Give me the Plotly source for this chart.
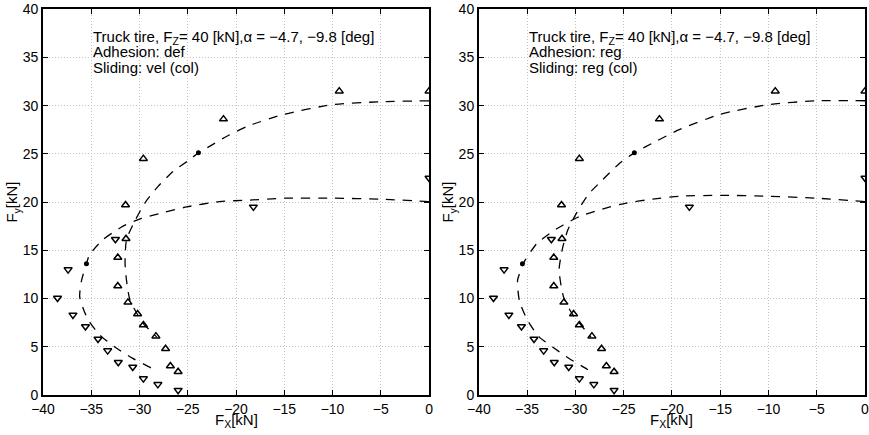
import plotly.graph_objects as go

# Measured force points, alpha = -4.7 deg (up triangles) and -9.8 deg (down triangles)
meas_up_fx = [-9.3, -21.3, -29.6, -31.45, -31.4, -32.25, -32.25, -31.2, -30.2, -29.6, -28.3, -27.3, -26.8, -26.0, 0.0]
meas_up_fy = [31.5, 28.6, 24.5, 19.7, 16.2, 14.25, 11.3, 9.6, 8.4, 7.25, 6.1, 4.8, 3.0, 2.4, 31.5]
meas_dn_fx = [0.0, -18.2, -32.5, -37.4, -38.5, -36.9, -35.6, -34.3, -33.3, -32.2, -30.7, -29.6, -28.1, -26.0]
meas_dn_fy = [22.5, 19.5, 16.15, 13.0, 10.05, 8.3, 7.1, 5.8, 4.6, 3.4, 2.9, 1.7, 1.1, 0.5]

# Peak points marked with dots
peak_fx = [-23.9, -35.5]
peak_fy = [25.1, 13.6]

# Model curves, left panel (adhesion: def, sliding: vel)
def_a1_fx = [0.0, -5.0, -10.0, -15.0, -18.7, -21.0, -22.7, -23.9, -24.8, -26.5, -28.1, -29.45, -30.5, -31.35, -31.5, -31.35, -31.0, -30.3, -29.6, -28.2]
def_a1_fy = [30.5, 30.4, 30.1, 29.1, 27.9, 26.8, 25.8, 25.1, 24.4, 23.2, 21.6, 19.9, 18.0, 16.1, 13.7, 11.9, 9.85, 8.5, 7.4, 6.0]
def_a2_fx = [0.0, -5.0, -10.0, -15.0, -18.7, -21.7, -25.1, -27.55, -29.8, -31.7, -33.8, -35.2, -35.5, -36.0, -36.2, -35.7, -35.2, -34.1, -32.6, -30.7, -28.75, -28.3]
def_a2_fy = [20.05, 20.3, 20.4, 20.4, 20.2, 20.05, 19.5, 18.9, 18.3, 17.5, 16.1, 14.5, 13.6, 11.9, 10.2, 8.6, 7.6, 6.2, 5.0, 3.8, 2.77, 2.4]

# Model curves, right panel (adhesion: reg, sliding: reg)
reg_a1_fx = [0.0, -5.0, -10.0, -15.0, -19.25, -21.65, -23.9, -25.45, -27.2, -28.7, -29.9, -30.8, -31.3, -31.7, -31.25, -30.4, -29.3, -28.4]
reg_a1_fy = [30.5, 30.5, 30.1, 29.1, 27.5, 26.3, 25.1, 24.0, 22.3, 20.75, 18.85, 17.1, 15.4, 13.0, 10.2, 8.5, 7.1, 6.0]
reg_a2_fx = [0.0, -5.0, -10.0, -15.0, -19.25, -22.0, -24.75, -27.5, -29.6, -31.3, -32.0, -34.0, -35.2, -35.4, -36.0, -35.8, -35.0, -33.8, -32.2, -30.7, -28.8, -28.5]
reg_a2_fy = [20.05, 20.4, 20.6, 20.7, 20.6, 20.3, 19.9, 19.2, 18.5, 17.6, 17.2, 15.7, 14.0, 13.6, 11.9, 9.7, 7.8, 6.05, 4.85, 3.8, 2.67, 2.4]

x_ticks = [-40, -35, -30, -25, -20, -15, -10, -5, 0]
y_ticks = [0, 5, 10, 15, 20, 25, 30, 35, 40]

X_DOMAINS = [[0.0495, 0.4937], [0.5512, 0.9954]]

panels = [
    ("x", "y", def_a1_fx, def_a1_fy, def_a2_fx, def_a2_fy, ["Adhesion: def", "Sliding: vel (col)"]),
    ("x2", "y2", reg_a1_fx, reg_a1_fy, reg_a2_fx, reg_a2_fy, ["Adhesion: reg", "Sliding: reg (col)"]),
]

FONT = "Liberation Sans, Arial, sans-serif"
fig = go.Figure()
annotations = []
for (xa, ya, c1x, c1y, c2x, c2y, info), dom in zip(panels, X_DOMAINS):
    for cx, cy in ((c1x, c1y), (c2x, c2y)):
        fig.add_trace(go.Scatter(
            x=cx, y=cy, mode="lines", xaxis=xa, yaxis=ya,
            line=dict(color="black", width=1.3, dash="9px,8px", shape="spline", smoothing=0.6),
            showlegend=False, hoverinfo="skip"))
    fig.add_trace(go.Scatter(
        x=meas_up_fx, y=meas_up_fy, mode="markers", xaxis=xa, yaxis=ya,
        marker=dict(symbol="triangle-up-open", size=7, color="black", line=dict(width=1.5)),
        showlegend=False))
    fig.add_trace(go.Scatter(
        x=meas_dn_fx, y=meas_dn_fy, mode="markers", xaxis=xa, yaxis=ya,
        marker=dict(symbol="triangle-down-open", size=7, color="black", line=dict(width=1.5)),
        showlegend=False))
    fig.add_trace(go.Scatter(
        x=peak_fx, y=peak_fy, mode="markers", xaxis=xa, yaxis=ya,
        marker=dict(symbol="circle", size=5, color="black"),
        showlegend=False))

    lines = ["Truck tire, F<sub>Z</sub>= 40 [kN],\u03b1 = \u22124.7, \u22129.8 [deg]"] + info
    for txt, yv in zip(lines, [37.1, 35.6, 34.0]):
        annotations.append(dict(
            x=-35.05, y=yv, xref=xa, yref=ya, text=txt, showarrow=False,
            xanchor="left", yanchor="middle", font=dict(size=15, color="black", family=FONT)))

    # x-axis title placed just under the tick labels
    annotations.append(dict(
        x=(dom[0] + dom[1]) / 2, y=0.0598, xref="paper", yref="paper",
        text="F<sub>X</sub>[kN]", showarrow=False, xanchor="center", yanchor="top",
        font=dict(size=15, color="black", family=FONT)))

axis_common = dict(
    showline=True, linecolor="black", linewidth=2, mirror="ticks",
    ticks="inside", ticklen=5, tickwidth=1, tickcolor="black",
    showgrid=True, gridcolor="#c4c4c4", griddash="1px,2px", gridwidth=1,
    zeroline=False, automargin=False, ticklabeloverflow="allow",
    tickfont=dict(size=14, color="black", family=FONT),
)

fig.update_layout(
    width=869, height=435,
    margin=dict(l=0, r=0, t=0, b=0),
    paper_bgcolor="white", plot_bgcolor="white",
    font=dict(family=FONT, color="black"),
    xaxis=dict(domain=X_DOMAINS[0], range=[-40, 0], tickvals=x_ticks, anchor="y", **axis_common),
    yaxis=dict(domain=[0.092, 0.979], range=[0, 40], tickvals=y_ticks, anchor="x",
               title=dict(text="F<sub>y</sub>[kN]", font=dict(size=15), standoff=0), **axis_common),
    xaxis2=dict(domain=X_DOMAINS[1], range=[-40, 0], tickvals=x_ticks, anchor="y2", **axis_common),
    yaxis2=dict(domain=[0.092, 0.979], range=[0, 40], tickvals=y_ticks, anchor="x2",
                title=dict(text="F<sub>y</sub>[kN]", font=dict(size=15), standoff=0), **axis_common),
    annotations=annotations,
)

fig.write_html("out.html")
